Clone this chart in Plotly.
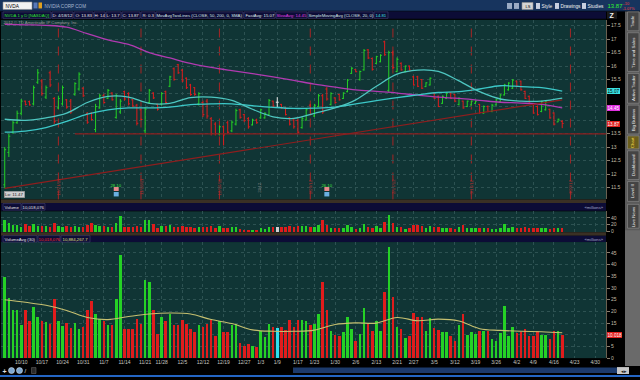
import plotly.graph_objects as go
import pandas as pd

# ---------------- data ----------------
holidays = ["2011-11-24", "2011-12-26", "2012-01-02", "2012-01-16", "2012-02-20", "2012-04-06"]
session_days = [d for d in pd.bdate_range("2011-10-04", "2012-05-04")
                if d.strftime("%Y-%m-%d") not in holidays]
date_keys = [d.strftime("%Y-%m-%d") for d in session_days]

opens = [11.6, 12.8, 13.55, 13.9, 14.25, 14.7, 14.68, 14.6, 15.4, 15.45,
         14.85, 15.75, 14.8, 14.45, 14.6, 14.75, 14.7, 14.95, 15.15, 15.18,
         14.25, 14.25, 13.65, 14.45, 14.9, 14.8, 15.0, 14.1, 14.3, 15.05,
         14.98, 14.75, 14.55, 14.38, 13.6, 14.65, 15.0, 14.58, 14.6, 15.05,
         15.25, 15.9, 16.05, 15.85, 15.55, 15.3, 15.2, 14.6, 14.65, 14.7,
         14.05, 13.85, 13.48, 13.75, 13.9, 13.6, 13.85, 14.38, 14.2, 14.05,
         13.82, 14.0, 14.08, 14.08, 14.2, 14.7, 14.66, 14.58, 14.45, 14.08,
         14.0, 13.98, 13.72, 14.0, 14.55, 14.15, 14.5, 14.9, 15.15, 14.58,
         14.82, 14.95, 14.8, 15.05, 15.73, 15.87, 15.5, 15.86, 16.6, 16.28,
         16.1, 16.16, 16.9, 15.1, 16.5, 15.8, 16.1, 15.8, 16.0, 15.6,
         15.6, 15.5, 15.24, 15.3, 15.0, 14.88, 14.62, 14.8, 15.0, 14.95,
         14.58, 14.7, 14.5, 14.56, 14.62, 14.58, 14.26, 14.5, 14.32, 14.56,
         14.68, 14.93, 15.12, 15.18, 15.44, 15.44, 15.06, 14.88, 14.58, 14.5,
         14.32, 14.38, 14.4, 14.26, 13.93, 13.95]
highs = [13.0, 13.49, 13.98, 14.35, 14.78, 14.72, 14.72, 15.28, 15.89, 15.52,
         15.28, 15.83, 14.85, 14.9, 15.28, 14.78, 14.78, 15.4, 15.77, 15.22,
         14.29, 14.29, 14.6, 14.97, 14.97, 15.15, 15.03, 14.97, 14.78, 15.09,
         15.03, 14.78, 14.6, 14.42, 14.48, 15.15, 15.03, 14.6, 15.03, 15.09,
         15.64, 15.95, 16.08, 15.89, 15.58, 15.34, 15.22, 15.03, 14.72, 14.78,
         14.11, 13.92, 13.8, 13.8, 13.98, 13.98, 14.42, 14.42, 14.23, 14.11,
         14.05, 14.05, 14.42, 14.29, 14.78, 14.72, 14.85, 14.6, 14.48, 14.11,
         14.05, 14.05, 14.11, 14.42, 14.6, 14.6, 14.97, 14.97, 15.22, 15.03,
         14.85, 14.97, 15.03, 15.52, 15.96, 15.89, 15.83, 16.63, 16.63, 16.32,
         16.38, 16.44, 16.94, 16.57, 16.57, 16.32, 16.14, 16.02, 16.02, 15.64,
         15.64, 15.52, 15.4, 15.58, 15.03, 14.91, 14.91, 15.03, 15.03, 14.97,
         14.85, 14.72, 14.72, 14.72, 14.72, 14.6, 14.54, 14.54, 14.6, 14.78,
         14.97, 15.34, 15.4, 15.52, 15.46, 15.46, 15.09, 14.91, 14.6, 14.54,
         14.72, 14.72, 14.42, 14.29, 14.05, 14.0]
lows = [11.47, 12.63, 13.49, 13.86, 14.17, 14.54, 14.54, 14.54, 15.34, 14.9,
        14.78, 15.22, 13.86, 14.4, 14.54, 14.42, 14.23, 14.9, 15.09, 14.85,
        13.86, 13.98, 13.55, 14.42, 14.6, 14.78, 14.72, 14.05, 14.23, 14.72,
        14.54, 14.48, 13.8, 13.98, 13.49, 14.6, 14.78, 14.35, 14.54, 14.6,
        15.22, 15.46, 15.71, 15.4, 15.15, 14.9, 14.9, 14.54, 14.11, 14.05,
        13.43, 13.43, 13.43, 13.06, 13.49, 13.55, 13.8, 14.05, 13.92, 13.68,
        13.8, 13.86, 14.05, 14.05, 14.17, 14.48, 14.48, 14.42, 14.17, 13.8,
        13.68, 13.49, 13.68, 13.98, 14.17, 14.11, 14.48, 14.23, 14.72, 14.54,
        14.6, 14.72, 14.78, 15.03, 15.71, 15.77, 15.46, 15.83, 16.26, 15.83,
        16.08, 16.14, 16.38, 15.03, 15.89, 15.77, 15.83, 15.77, 15.83, 15.28,
        15.22, 15.15, 15.22, 15.28, 14.78, 14.48, 14.6, 14.78, 14.78, 14.66,
        14.54, 14.42, 14.48, 14.54, 14.6, 14.23, 14.23, 14.29, 14.29, 14.54,
        14.66, 14.91, 15.09, 15.15, 15.22, 15.09, 14.78, 14.6, 14.23, 14.17,
        14.29, 14.35, 14.05, 13.8, 13.92, 13.7]
closes = [12.9, 13.4, 13.9, 14.25, 14.7, 14.58, 14.56, 15.2, 15.75, 14.98,
          15.2, 15.3, 13.95, 14.8, 15.2, 14.48, 14.3, 15.35, 15.7, 14.9,
          13.92, 14.02, 14.5, 14.9, 14.65, 15.1, 14.75, 14.9, 14.7, 14.78,
          14.6, 14.52, 13.88, 14.02, 14.4, 15.1, 14.82, 14.4, 14.98, 14.65,
          15.6, 15.5, 15.75, 15.45, 15.2, 14.95, 14.95, 14.98, 14.2, 14.15,
          13.5, 13.5, 13.75, 13.45, 13.55, 13.92, 14.35, 14.1, 13.98, 13.75,
          14.0, 13.9, 14.38, 14.25, 14.72, 14.52, 14.66, 14.45, 14.2, 13.85,
          13.75, 13.55, 14.05, 14.38, 14.22, 14.55, 14.9, 14.3, 14.78, 14.98,
          14.65, 14.75, 15.0, 15.48, 15.92, 15.79, 15.8, 16.58, 16.3, 15.88,
          16.35, 16.4, 16.42, 16.5, 15.95, 16.25, 15.86, 16.0, 15.85, 15.3,
          15.25, 15.18, 15.38, 15.55, 14.8, 14.5, 14.88, 15.0, 14.8, 14.7,
          14.8, 14.45, 14.7, 14.7, 14.7, 14.28, 14.5, 14.32, 14.55, 14.75,
          14.93, 15.3, 15.37, 15.48, 15.25, 15.12, 14.8, 14.62, 14.26, 14.2,
          14.68, 14.68, 14.08, 13.85, 14.03, 13.87]
volume_millions = [34.6, 25.8, 20.4, 20.4, 14.0, 20.8, 15.8, 21.8, 17.5, 15.8,
                   15.4, 14.5, 25.2, 15.8, 13.7, 15.0, 13.0, 15.0, 12.5, 13.2,
                   20.4, 24.4, 18.9, 16.8, 15.8, 14.0, 14.0, 25.2, 44.2, 12.5,
                   12.5, 12.5, 16.8, 14.5, 33.6, 32.5, 20.8, 10.4, 17.5, 15.8,
                   18.7, 14.0, 14.0, 16.5, 14.7, 12.5, 11.1, 14.2, 13.2, 14.7,
                   16.2, 9.3, 15.8, 11.1, 11.1, 14.0, 14.7, 6.5, 5.1, 6.1,
                   5.4, 4.7, 11.8, 9.0, 14.5, 13.2, 13.0, 13.2, 12.0, 16.5,
                   13.2, 16.2, 16.2, 15.8, 14.0, 14.5, 18.9,
                   32.5, 20.4, 11.5, 10.1, 9.3, 11.1, 17.8, 12.5, 7.3, 10.4,
                   21.5, 14.4, 11.5, 15.8, 11.8, 28.2, 47.7, 26.1, 13.2, 12.5,
                   8.7, 9.4, 19.2, 17.8, 17.5, 11.5, 17.2, 13.0, 12.1, 11.1,
                   11.1, 9.4, 7.5, 14.0, 18.7, 9.7, 11.1, 10.4, 11.5, 11.8,
                   11.5, 8.0, 7.5, 10.7, 22.5, 9.4, 13.2, 10.7, 11.1, 12.5,
                   9.4, 9.4, 11.8, 9.7, 9.7, 8.3, 11.8, 11.5, 10.018076]

# study values read every 5th session (they depend on history before the view)
sample_step = 5
sma200 = [17.55, 17.53, 17.51, 17.44, 17.2, 16.97, 16.8, 16.5, 16.3, 16.1,
          15.95, 15.83, 15.72, 15.6, 15.47, 15.33, 15.22, 15.12, 15.06, 15.0,
          14.92, 14.85, 14.8, 14.73, 14.66, 14.63, 14.58, 14.45]
sma50 = [13.55, 13.59, 13.72, 13.95, 14.22, 14.38, 14.45, 14.45, 14.48, 14.57,
         14.6, 14.6, 14.53, 14.47, 14.43, 14.44, 14.48, 14.6, 14.72, 14.83,
         14.93, 15.02, 15.05, 15.15, 15.27, 15.24, 15.2, 15.07]
sma20 = [14.03, 13.99, 14.08, 14.26, 14.65, 14.88, 14.85, 14.62, 14.62, 14.83,
         14.85, 14.73, 14.4, 14.12, 14.06, 14.25, 14.45, 14.75, 15.25, 15.7,
         15.85, 15.8, 15.45, 15.05, 14.78, 14.7, 14.7, 14.81]
vol_avg30 = [25.0, 23.9, 22.6, 20.4, 17.4, 16.5, 17.8, 18.9, 19.3, 18.9,
             16.5, 14.8, 12.1, 11.5, 11.5, 12.0, 14.4, 15.1, 15.0, 17.4,
             16.0, 16.7, 15.9, 12.6, 11.9, 11.5, 11.3, 10.8842677]

opex_dates = ["2011-10-21", "2011-11-18", "2011-12-16", "2012-01-20",
              "2012-02-17", "2012-03-16", "2012-04-20"]
trend_start = ("2011-10-04", 11.47)
trend_end = ("2012-04-18", 14.75)
support_level = 13.49
support_span = ("2011-10-27", "2012-05-04")
events = [("2011-11-10", "28.10"), ("2012-01-26", "26.10")]
year_mark = ("2012-01-03", "2012")
price_ticks = [11.5, 12, 12.5, 13, 13.5, 14, 14.5, 15, 15.5, 16, 16.5, 17, 17.5]
price_ticks_hidden = [14, 14.5, 15]      # covered by the value bubbles
volume_ticks = [0, 5, 10, 15, 20, 25, 30, 35, 40, 45]
volume_ticks_hidden = [10]

# ---------------- layout helpers ----------------
W, H = 640, 380
FONT = "Liberation Sans, Arial, sans-serif"
BG = "#103535"
GRID = "#2d5252"
GREEN = "#25d125"
RED = "#e01c1c"
pos = {k: i for i, k in enumerate(date_keys)}
n = len(closes)
idx = list(range(n))
X_RANGE = [-0.9, 145.6]
PL, PR = 1, 606
PRICE_T, PRICE_B = 20, 201
SV_T, SV_B = 213, 234
LV_T, LV_B = 244, 361


def fy(y):
    return 1 - y / H


shapes, annots = [], []


def rect(x0, y0, x1, y1, fill, line=None, lw=0.6):
    shapes.append(dict(type="rect", xref="paper", yref="paper", x0=x0 / W, x1=x1 / W,
                       y0=fy(y1), y1=fy(y0), fillcolor=fill, layer="above",
                       line=dict(color=line or fill, width=lw if line else 0)))


def text(x, y, s, size=4.6, color="#e0e0e0", xanchor="left", angle=0, bg=None,
         xref="paper", yref="paper", border=None):
    annots.append(dict(xref=xref, yref=yref, x=x / W if xref == "paper" else x,
                       y=fy(y) if yref == "paper" else y, text=s, showarrow=False,
                       xanchor=xanchor, yanchor="middle", textangle=angle,
                       font=dict(size=size, color=color, family=FONT),
                       bgcolor=bg, bordercolor=border, borderwidth=0.5 if border else 0,
                       borderpad=0.5))


fig = go.Figure()

# ---------------- price bars ----------------
groups = [([i for i in idx if closes[i] > opens[i]], GREEN),
          ([i for i in idx if closes[i] < opens[i]], RED),
          ([i for i in idx if closes[i] == opens[i]], "#e8e8e8")]
for sel, col in groups:
    fig.add_trace(go.Ohlc(x=sel, open=[opens[i] for i in sel], high=[highs[i] for i in sel],
                          low=[lows[i] for i in sel], close=[closes[i] for i in sel],
                          increasing=dict(line=dict(color=col, width=1)),
                          decreasing=dict(line=dict(color=col, width=1)),
                          tickwidth=0.35, xaxis="x", yaxis="y", hoverinfo="skip"))

sx = list(range(0, n, sample_step))
fig.add_trace(go.Scatter(x=sx, y=sma200, mode="lines", line=dict(color="#b03ab0", width=1.3, shape="spline"),
                         xaxis="x", yaxis="y"))
fig.add_trace(go.Scatter(x=sx, y=sma50, mode="lines", line=dict(color="#3cc8c8", width=1.3, shape="spline"),
                         xaxis="x", yaxis="y"))
fig.add_trace(go.Scatter(x=sx, y=sma20, mode="lines", line=dict(color="#4ec6c0", width=1.3, shape="spline"),
                         xaxis="x", yaxis="y"))
# drawn trendlines
fig.add_trace(go.Scatter(x=[pos[trend_start[0]], pos[trend_end[0]]], y=[trend_start[1], trend_end[1]],
                         mode="lines", line=dict(color="#8e1e1e", width=1.2), xaxis="x", yaxis="y"))
fig.add_trace(go.Scatter(x=[pos[support_span[0]], pos[support_span[1]]], y=[support_level, support_level],
                         mode="lines", line=dict(color="#8e1e1e", width=1.2), xaxis="x", yaxis="y"))

# ---------------- volume ----------------
vcol_small = [GREEN if closes[i] > opens[i] else RED if closes[i] < opens[i] else "#d0d0d0" for i in idx]
vcol_big = [GREEN if closes[i] > opens[i] else RED if closes[i] < opens[i] else "#30e0f0" for i in idx]
fig.add_trace(go.Bar(x=idx, y=volume_millions, marker=dict(color=vcol_small, line=dict(width=0)),
                     width=0.6, xaxis="x2", yaxis="y2"))
fig.add_trace(go.Bar(x=idx, y=volume_millions, marker=dict(color=vcol_big, line=dict(width=0)),
                     width=0.62, xaxis="x3", yaxis="y3"))
fig.add_trace(go.Scatter(x=sx, y=vol_avg30, mode="lines", line=dict(color="#c6c070", width=1.1, shape="spline"),
                         xaxis="x3", yaxis="y3"))

# ---------------- axes ----------------
week_pos, week_txt = [], []
for i in range(1, len(session_days)):
    if session_days[i].weekday() < session_days[i - 1].weekday():
        week_pos.append(i)
        week_txt.append(f"{session_days[i].month}/{session_days[i].day}")

xcommon = dict(domain=[PL / W, PR / W], range=X_RANGE, showgrid=True, gridcolor=GRID, griddash="dot",
               gridwidth=1, zeroline=False, tickvals=week_pos, ticktext=week_txt, ticks="",
               showline=False, fixedrange=True)
tickfont = dict(size=5, color="#c4bea8", family=FONT)
ycommon = dict(side="right", showgrid=True, gridcolor=GRID, griddash="dot", gridwidth=1, zeroline=False,
               ticks="outside", ticklen=3, tickcolor="#8a8070", showline=True, linecolor="#6a6050",
               linewidth=1, tickfont=tickfont, fixedrange=True)

p_lo = 11.5 - (PRICE_B - 189) / 27.2
p_hi = 11.5 + (189 - PRICE_T) / 27.2
fig.update_layout(
    width=W, height=H, margin=dict(l=0, r=0, t=0, b=0), autosize=False,
    paper_bgcolor="#000000", plot_bgcolor=BG, showlegend=False, hovermode=False, bargap=0,
    xaxis=dict(xcommon, anchor="y", showticklabels=False, rangeslider=dict(visible=False)),
    xaxis2=dict(xcommon, anchor="y2", showticklabels=False),
    xaxis3=dict(xcommon, anchor="y3", showticklabels=True, tickangle=0,
                tickfont=dict(size=5, color="#c8c8c0", family=FONT)),
    yaxis=dict(ycommon, anchor="x", domain=[fy(PRICE_B), fy(PRICE_T)], range=[p_lo, p_hi],
               tickvals=price_ticks,
               ticktext=["" if t in price_ticks_hidden else f"{t:g}" for t in price_ticks]),
    yaxis2=dict(ycommon, anchor="x2", domain=[fy(SV_B), fy(SV_T)],
                range=[-0.5 / 0.35, (233.5 - SV_T) / 0.35], tickvals=[0, 20, 40]),
    yaxis3=dict(ycommon, anchor="x3", domain=[fy(LV_B), fy(LV_T)],
                range=[0, (LV_B - LV_T) / 2.356], tickvals=volume_ticks,
                ticktext=["" if t in volume_ticks_hidden else f"{t:g}" for t in volume_ticks]),
)

# option-expiration separators
for d in opex_dates:
    p = pos[d]
    shapes.append(dict(type="line", xref="x", yref="paper", x0=p, x1=p, y0=fy(PRICE_B), y1=fy(PRICE_T),
                       line=dict(color="#9a2626", width=1.1, dash="dash"), layer="below"))
    dt = pd.Timestamp(d)
    text(p, 188, f"{dt.month}/{dt.day}/{dt.strftime('%y')}", size=4.4, color="#b83030",
         xanchor="center", angle=-90, xref="x")
text(pos[year_mark[0]] - 0.5, 189, year_mark[1], size=4.4, color="#7c7c7c", xanchor="center",
     angle=-90, xref="x")

# event markers
for d, lab in events:
    p = pos[d]
    text(p, 186, lab, size=4.2, color="#40e040", xanchor="center", xref="x")
    shapes.append(dict(type="rect", xref="x", yref="paper", x0=p - 0.6, x1=p + 0.6, y0=fy(192.5), y1=fy(188.5),
                       fillcolor="#e88a8a", line=dict(width=0)))
    shapes.append(dict(type="rect", xref="x", yref="paper", x0=p - 0.6, x1=p + 0.6, y0=fy(198), y1=fy(193.5),
                       fillcolor="#6ab0e0", line=dict(width=0)))

text(pos[trend_start[0]] - 0.2, 196, f"Lo: {min(lows):.2f}", size=4.4, color="#202020", bg="#d0d0d0",
     border="#8a8a8a", xref="x")

# right-axis value bubbles
text(607, sma50[-1], f"{sma50[-1]:.2f}", size=4.6, color="#000000", bg="#38e0e0", yref="y")
text(607, sma200[-1], f"{sma200[-1]:.2f}", size=4.6, color="#ffffff", bg="#e030e0", yref="y")
text(607, closes[-1], f"{closes[-1]:.2f}", size=4.6, color="#ffffff", bg="#e02020", yref="y")
text(607, volume_millions[-1], f"{volume_millions[-1]:.3f}", size=4.6, color="#ffffff", bg="#e02020", yref="y3")

# ---------------- chrome ----------------
rect(0, 0, 640, 11, "#17345e")
rect(0, 10.5, 640, 11.5, "#0a1a36")
rect(3, 2, 32, 9.5, "#f2f2f2", "#909090")
text(4.5, 5.8, "NVDA", size=4.8, color="#000000")
rect(33.5, 2.5, 37.5, 8.5, "#5878b8")
rect(38.5, 2.5, 42, 8.5, "#e0a020")
text(44, 5.8, "NVIDIA CORP COM", size=4.6, color="#a8b8d0")
rect(507, 3, 512, 9, "#9aaac4")
rect(514, 3, 519, 9, "#9aaac4")
rect(522, 2.5, 533, 9.5, "#d4d4d4", "#909090")
text(527.5, 6, "LS", size=4, color="#000000", xanchor="center")
for ix, lab in ((536, "Style"), (555, "Drawings"), (582, "Studies")):
    rect(ix, 3, ix + 4, 9, "#c8d0e0")
    text(ix + 4.5, 6, lab, size=4.8, color="#f0f0f0")
text(606.5, 6, f"{closes[-1]:.2f}", size=6, color="#30f030")
text(622, 3.6, "-.10", size=3.8, color="#ff4040")
text(622, 8.2, "-1.07%", size=3.8, color="#ff4040")

rect(PL, 11.5, PR, 19, "#0c0c36")
last = n - 1
legend_items = [("NVDA 1 y D [NASDAQ]", 3, 51, "#30e030"),
                ("D: 4/18/12", 52, 73, "#e8e8e8"),
                ("O: 13.83", 74, 93, "#e8e8e8"),
                (f"H: {highs[last]:g}", 94, 105, "#e8e8e8"),
                (f"L: {lows[last]:g}", 106, 121, "#e8e8e8"),
                (f"C: {closes[last]:g}", 122, 140, "#e8e8e8"),
                ("R: 0.3", 141, 155, "#e8e8e8"),
                ("MovAvgTwoLines (CLOSE, 50, 200, 0, SMA)", 156, 243, "#d8e8e8"),
                (f"FastAvg: {sma50[-1]:.2f}", 244, 275, "#e0f0f0"),
                (f"SlowAvg: {sma200[-1]:.2f}", 276, 307, "#e040e0"),
                ("SimpleMovingAvg (CLOSE, 20, 0)", 308, 373, "#d8e8e8"),
                (f"{sma20[-1]:.2f}", 374, 388, "#40e0e0")]
for s, x0, x1, c in legend_items:
    rect(x0, 12, x1, 18.5, "#0c0c36", "#4c4c7a", 0.5)
    text((x0 + x1) / 2, 15.3, s, size=4.3, color=c, xanchor="center")
rect(607, 11.5, 617, 19, "#1a1a1a")
text(612, 15.2, "<b>Z</b>", size=7, color="#f0f0f0", xanchor="center")
text(3, 22.5, "2012 © TD Ameritrade IP Company, Inc.", size=4.2, color="#9a9a9a")

# panel separators and study headers
rect(PL, 201, PR, 204.5, "#3a3024")
rect(PL, 234, PR, 237.5, "#3a3024")
rect(PL, 204.5, PR, 212.5, "#0c0c36")
rect(PL, 237.5, PR, 244, "#0c0c36")
v_last = f"{volume_millions[-1] * 1e6:,.0f}"
for s, x0, x1, c, yy in (("Volume", 3, 21, "#e8e8e8", 208.5), (v_last, 22, 45, "#e8e8e8", 208.5),
                         ("VolumeAvg (30)", 3, 37, "#e8e8e8", 240.8), (v_last, 38, 60, "#ff3030", 240.8),
                         (f"{vol_avg30[-1] * 1e6:,.1f}", 61, 90, "#e0e080", 240.8)):
    rect(x0, yy - 3.3, x1, yy + 3.3, "#0c0c36", "#4c4c7a", 0.5)
    text((x0 + x1) / 2, yy, s, size=4.3, color=c, xanchor="center")
text(604, 208.5, "«millions»", size=4.2, color="#a8a8c8", xanchor="right")
text(604, 240.8, "«millions»", size=4.2, color="#a8a8c8", xanchor="right")

# right side tabs
rect(625, 11.5, 640, 369, "#5a5a5a")
rect(625, 232, 640, 369, "#6a6a6a")
tabs = [("Trade", 12, 31), ("Time and Sales", 33, 72), ("Active Trader", 74, 104),
        ("Big Buttons", 106, 135), ("Chart", 137, 150), ("Dashboard", 152, 181),
        ("Level II", 183, 203), ("Live News", 206, 230)]
for s, y0, y1 in tabs:
    on = s == "Chart"
    rect(627.5, y0, 639, y1, "#6a5e1c" if on else "#444444", "#9a9a9a", 0.5)
    text(633.3, (y0 + y1) / 2, s, size=4.4, color="#f4d848" if on else "#ececec",
         xanchor="center", angle=-90)

# bottom toolbar
rect(0, 369.5, 640, 378, "#000000")
text(2, 373.5, "<b>+</b>", size=7, color="#e0e0e0")
for cx in (11.5, 19.5):
    shapes.append(dict(type="circle", xref="paper", yref="paper", x0=(cx - 3) / W, x1=(cx + 3) / W,
                       y0=fy(376.5), y1=fy(370.5), fillcolor="#7fa8d0", line=dict(color="#d0e0f0", width=0.6)))
text(24, 373.5, "/", size=6, color="#e0e0e0")
rect(31.5, 370.5, 36, 376.5, "#2a2a2a", "#707070", 0.5)
rect(293, 370.5, 617, 376, "#1c3a6c")
rect(617, 370, 629, 377, "#c8c8c8")
text(623, 373.5, "◂▸", size=4.5, color="#202020", xanchor="center")
rect(0, 378, 640, 380, "#2466c4")

fig.update_layout(shapes=shapes, annotations=annots)
fig.write_html("out.html", config={"displayModeBar": False, "staticPlot": True},
               post_script="document.body.style.margin='0';document.body.style.padding='0';"
                           "document.body.style.overflow='hidden';")
